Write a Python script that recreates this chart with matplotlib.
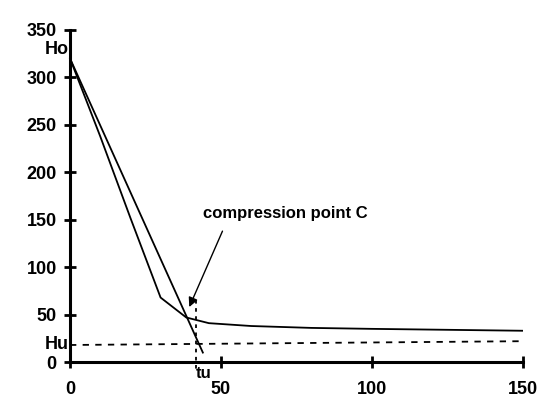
import matplotlib.pyplot as plt

plt.rcParams['font.family'] = ['Liberation Sans', 'DejaVu Sans']

# curva rettilinea (tangente)
t_line = [0, 44]
h_line = [320, 10]

# curva di compressione
t_curve = [0, 10, 20, 30, 38.5, 46, 60, 80, 100, 125, 150]
h_curve = [320, 238, 152, 68, 47, 41, 38, 36, 35, 34, 33]

# livello Hu
t_hu = [0, 150]
h_hu = [18, 22]

tu = 41.7
x_ticks = [0, 50, 100, 150]
y_ticks = [0, 50, 100, 150, 200, 250, 300, 350]

fig = plt.figure(figsize=(5.49, 4.05), dpi=100)
ax = fig.add_axes([0.1275, 0.106, 0.825, 0.82])

ax.plot(t_line, h_line, color='black', lw=1.3, clip_on=False)
ax.plot(t_curve, h_curve, color='black', lw=1.3)
ax.plot(t_hu, h_hu, color='black', lw=1.3, linestyle=(0, (3.5, 3.5)))
ax.plot([tu, tu], [65, -8], color='black', lw=1.3, linestyle=(0, (2, 2.5)), clip_on=False)

ax.annotate('', xy=(39.5, 58), xytext=(50.5, 138),
            arrowprops=dict(arrowstyle='-|>', color='black', lw=1.0,
                            mutation_scale=14, shrinkA=0, shrinkB=0))
ax.text(44, 157, 'compression point C', fontsize=12, fontweight='bold', va='center')

ax.text(-0.5, 329, 'Ho', fontsize=13, fontweight='bold', ha='right', va='center')
ax.text(-0.3, 19, 'Hu', fontsize=13, fontweight='bold', ha='right', va='center')
ax.text(44.3, -12, 'tu', fontsize=12, fontweight='bold', ha='center', va='center')

ax.set_xlim(0, 150)
ax.set_ylim(0, 350)
ax.set_xticks(x_ticks)
ax.set_yticks(y_ticks)
for lab in ax.get_xticklabels() + ax.get_yticklabels():
    lab.set_fontweight('bold')
    lab.set_fontsize(13)
ax.tick_params(axis='both', direction='inout', length=9, width=2)
ax.tick_params(axis='x', pad=9)
ax.tick_params(axis='y', pad=5)
ax.spines['top'].set_visible(False)
ax.spines['right'].set_visible(False)
ax.spines['left'].set_linewidth(2.2)
ax.spines['bottom'].set_linewidth(2.2)

fig.savefig('out.png', dpi=100)
